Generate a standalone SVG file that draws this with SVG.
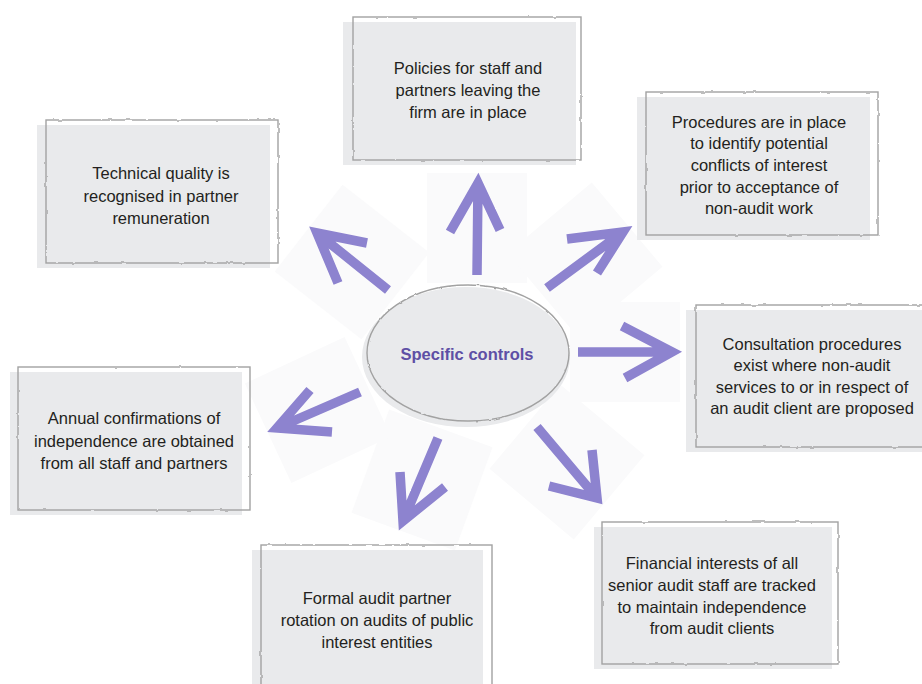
<svg xmlns="http://www.w3.org/2000/svg" width="922" height="684" viewBox="0 0 922 684">
<defs>
<filter id="rough" x="-5%" y="-5%" width="110%" height="110%">
<feTurbulence type="fractalNoise" baseFrequency="0.12" numOctaves="2" seed="3" result="n"/>
<feDisplacementMap in="SourceGraphic" in2="n" scale="2.2" xChannelSelector="R" yChannelSelector="G"/>
</filter>
<filter id="soft" x="-20%" y="-20%" width="140%" height="140%">
<feTurbulence type="fractalNoise" baseFrequency="0.6" numOctaves="1" seed="7" result="n"/>
<feDisplacementMap in="SourceGraphic" in2="n" scale="1.6" xChannelSelector="R" yChannelSelector="G" result="d"/>
<feGaussianBlur in="d" stdDeviation="0.6"/>
</filter>
</defs>
<style>
.fill{fill:#e9eaec;stroke:none}
.edge{fill:none;stroke:#a2a2a2;stroke-width:1.4;filter:url(#rough)}
.t{font-family:"Liberation Sans",Arial,sans-serif;font-size:16.5px;fill:#231f20;text-anchor:middle;dominant-baseline:central}
.title{font-family:"Liberation Sans",Arial,sans-serif;font-size:16.5px;font-weight:bold;fill:#5e4fa5;text-anchor:middle;dominant-baseline:central}
.arr{fill:none;stroke:#8d83cf;stroke-width:9.5;stroke-linecap:butt;stroke-linejoin:miter;stroke-miterlimit:6;filter:url(#soft)}
.glow{fill:#fafafb;stroke:none}
</style>
<rect width="922" height="684" fill="#ffffff"/>

<g id="backdrops">
<rect class="glow" x="-55" y="-55" width="110" height="110" transform="translate(352,262) rotate(38)"/>
<rect class="glow" x="-50" y="-55" width="100" height="110" transform="translate(477,228)"/>
<rect class="glow" x="-55" y="-55" width="110" height="110" transform="translate(585,260) rotate(-40)"/>
<rect class="glow" x="-55" y="-50" width="110" height="100" transform="translate(625,352)"/>
<rect class="glow" x="-55" y="-55" width="110" height="110" transform="translate(567,462) rotate(40)"/>
<rect class="glow" x="-55" y="-55" width="110" height="110" transform="translate(422,480) rotate(20)"/>
<rect class="glow" x="-55" y="-55" width="110" height="110" transform="translate(318,410) rotate(-25)"/>
</g>

<g id="connectors">
<path class="arr" d="M388,290 L317,233 M367,243 L317,233 L338,283"/>
<path class="arr" d="M477,275 L478,183 M450,232 L478,183 L500,230"/>
<path class="arr" d="M547,288 L623,232 M567,239 L623,232 L597,273"/>
<path class="arr" d="M578,352 L672,352 M622,326 L672,352 L625,378"/>
<path class="arr" d="M537,427 L597,498 M592,450 L597,498 L549,486"/>
<path class="arr" d="M438,438 L403,521 M400,472 L403,521 L445,487"/>
<path class="arr" d="M360,392 L277,428 M310,390 L277,428 L332,432"/>
</g>

<g id="center">
<ellipse class="fill" cx="466" cy="357" rx="104" ry="70"/>
<ellipse class="edge" cx="468" cy="353" rx="101" ry="68"/>
<text class="title" x="467" y="354">Specific controls</text>
</g>

<g id="n-policies">
<rect class="fill" x="343" y="22" width="233" height="143"/>
<rect class="edge" x="353" y="17" width="228" height="143"/>
<text class="t" x="468" y="68">Policies for staff and</text>
<text class="t" x="468" y="90">partners leaving the</text>
<text class="t" x="468" y="112">firm are in place</text>
</g>

<g id="n-technical">
<rect class="fill" x="37" y="125" width="233" height="143"/>
<rect class="edge" x="46" y="120" width="232" height="143"/>
<text class="t" x="161" y="173">Technical quality is</text>
<text class="t" x="161" y="196">recognised in partner</text>
<text class="t" x="161" y="218">remuneration</text>
</g>

<g id="n-procedures">
<rect class="fill" x="637" y="97" width="233" height="143"/>
<rect class="edge" x="646" y="92" width="232" height="143"/>
<text class="t" x="759" y="122">Procedures are in place</text>
<text class="t" x="759" y="143">to identify potential</text>
<text class="t" x="759" y="165">conflicts of interest</text>
<text class="t" x="759" y="187">prior to acceptance of</text>
<text class="t" x="759" y="208">non-audit work</text>
</g>

<g id="n-consultation">
<rect class="fill" x="686" y="310" width="240" height="142"/>
<rect class="edge" x="696" y="305" width="240" height="142"/>
<text class="t" x="812" y="344">Consultation procedures</text>
<text class="t" x="812" y="365">exist where non-audit</text>
<text class="t" x="812" y="387">services to or in respect of</text>
<text class="t" x="812" y="408">an audit client are proposed</text>
</g>

<g id="n-financial">
<rect class="fill" x="594" y="527" width="238" height="142"/>
<rect class="edge" x="602" y="522" width="236" height="142"/>
<text class="t" x="712" y="563">Financial interests of all</text>
<text class="t" x="712" y="585">senior audit staff are tracked</text>
<text class="t" x="712" y="607">to maintain independence</text>
<text class="t" x="712" y="628">from audit clients</text>
</g>

<g id="n-formal">
<rect class="fill" x="252" y="550" width="231" height="140"/>
<rect class="edge" x="261" y="545" width="231" height="145"/>
<text class="t" x="377" y="598">Formal audit partner</text>
<text class="t" x="377" y="620">rotation on audits of public</text>
<text class="t" x="377" y="642">interest entities</text>
</g>

<g id="n-annual">
<rect class="fill" x="10" y="372" width="232" height="143"/>
<rect class="edge" x="18" y="367" width="232" height="143"/>
<text class="t" x="134" y="418">Annual confirmations of</text>
<text class="t" x="134" y="441">independence are obtained</text>
<text class="t" x="134" y="463">from all staff and partners</text>
</g>
</svg>
